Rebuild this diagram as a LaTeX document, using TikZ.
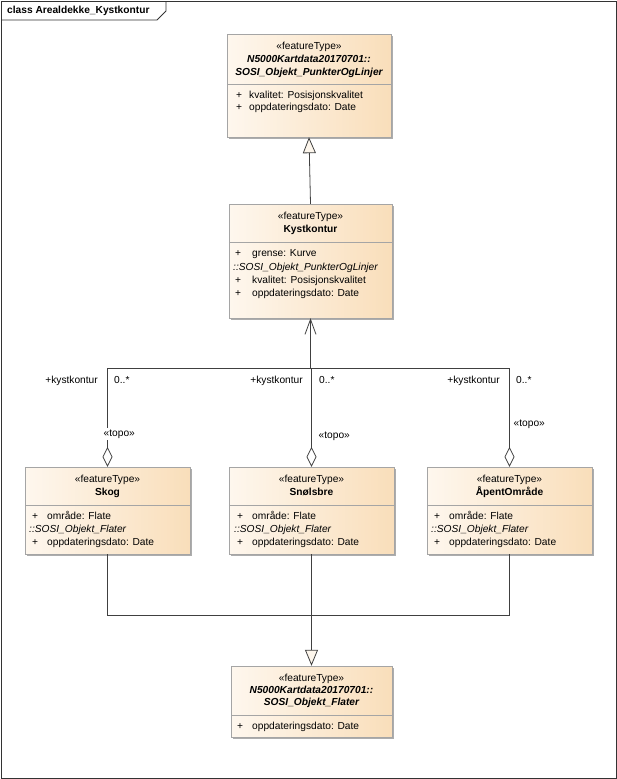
\documentclass[tikz,border=0pt]{standalone}
\usepackage{fontspec}
\setmainfont{Liberation Sans}
\usetikzlibrary{arrows.meta,shadows}

\definecolor{cls_light}{RGB}{254,247,238}
\definecolor{cls_dark}{RGB}{249,222,186}
\definecolor{cls_edge}{RGB}{165,165,165}
\definecolor{conn}{RGB}{64,64,64}
\definecolor{tip_fill}{RGB}{253,246,236}

\tikzset{
  cls_box/.style={draw=cls_edge, left color=cls_light, right color=cls_dark,
    inner sep=0pt, drop shadow={shadow xshift=2pt, shadow yshift=-2pt, fill=black!32, opacity=1}},
  txt/.style={inner sep=0pt, text height=7.5pt, text depth=2.2pt, font=\fontsize{10.2}{12}\selectfont},
  txt_name/.style={txt, font=\fontsize{10.2}{12}\selectfont\bfseries},
  txt_abs/.style={txt, font=\fontsize{10.2}{12}\selectfont\bfseries\itshape},
  txt_attr/.style={txt, anchor=west},
  txt_inh/.style={txt, anchor=west, font=\fontsize{10.2}{12}\selectfont\itshape},
  sep_line/.style={draw=cls_edge, line width=0.8pt},
}

\begin{document}
\begin{tikzpicture}[
  x=1pt, y=-1pt,
  conn_line/.style={draw=conn, line width=0.8pt},
  gen_end/.style={arrows={-Triangle[length=16pt, width=13pt, fill=tip_fill]}},
  agg_end/.style={arrows={Diamond[open, length=20pt, width=10pt]-}},
  nav_end/.style={arrows={-Straight Barb[length=15pt, width=11pt]}},
  ]
  \useasboundingbox (0,0) rectangle (617,779);

  % diagram frame
  \draw[line width=0.8pt, draw=black!80] (1,1) rectangle (616,778);
  \draw[line width=0.8pt, draw=black!80] (1,20) -- (157,20) -- (166,11) -- (166,1);
  \node[txt_name, anchor=west] (title) at (7,11) {class Arealdekke\_Kystkontur};

  % N5000 PunkterOgLinjer
  \node[cls_box, minimum width=164pt, minimum height=103pt] (punkt) at (309,85.5) {};
  \node[txt] (punkt_st) at (309,47) {«featureType»};
  \node[txt_abs] (punkt_pk) at (309,60) {N5000Kartdata20170701::};
  \node[txt_abs] (punkt_nm) at (309,73) {SOSI\_Objekt\_PunkterOgLinjer};
  \draw[sep_line] (punkt.west |- 0,84) -- (punkt.east |- 0,84);
  \node[txt_attr] (punkt_p1) at (236,96) {+};
  \node[txt_attr] (punkt_a1) at (249,96) {kvalitet: Posisjonskvalitet};
  \node[txt_attr] (punkt_p2) at (236,108) {+};
  \node[txt_attr] (punkt_a2) at (249,108) {oppdateringsdato: Date};

  % Kystkontur
  \node[cls_box, minimum width=163pt, minimum height=114pt] (kyst) at (310.5,261) {};
  \node[txt] (kyst_st) at (310.5,217) {«featureType»};
  \node[txt_name] (kyst_nm) at (310.5,230) {Kystkontur};
  \draw[sep_line] (kyst.west |- 0,242) -- (kyst.east |- 0,242);
  \node[txt_attr] (kyst_p1) at (235,254) {+};
  \node[txt_attr] (kyst_a1) at (252,254) {grense: Kurve};
  \node[txt_inh] (kyst_in) at (233,268) {::SOSI\_Objekt\_PunkterOgLinjer};
  \node[txt_attr] (kyst_p2) at (235,281) {+};
  \node[txt_attr] (kyst_a2) at (252,281) {kvalitet: Posisjonskvalitet};
  \node[txt_attr] (kyst_p3) at (235,294) {+};
  \node[txt_attr] (kyst_a3) at (252,294) {oppdateringsdato: Date};

  % flate classes
  \foreach \cls/\cx/\lx/\title in {skog/107.5/25/Skog, snol/311.5/230/Snølsbre, aapen/509.5/427/ÅpentOmråde}{
    \node[cls_box, minimum width=165pt, minimum height=87pt] (\cls) at (\cx,510.5) {};
    \node[txt] (\cls_st) at (\cx,480) {«featureType»};
    \node[txt_name] (\cls_nm) at (\cx,493) {\title};
    \draw[sep_line] (\cls.west |- 0,505) -- (\cls.east |- 0,505);
    \node[txt_attr] (\cls_p1) at (\lx+7,517) {+};
    \node[txt_attr] (\cls_a1) at (\lx+22,517) {område: Flate};
    \node[txt_inh] (\cls_in) at (\lx+4,530) {::SOSI\_Objekt\_Flater};
    \node[txt_attr] (\cls_p2) at (\lx+7,543) {+};
    \node[txt_attr] (\cls_a2) at (\lx+22,543) {oppdateringsdato: Date};
  }

  % N5000 Flater
  \node[cls_box, minimum width=161pt, minimum height=71pt] (flate) at (311.5,701.5) {};
  \node[txt] (flate_st) at (311.5,679) {«featureType»};
  \node[txt_abs] (flate_pk) at (311.5,691) {N5000Kartdata20170701::};
  \node[txt_abs] (flate_nm) at (311.5,703) {SOSI\_Objekt\_Flater};
  \draw[sep_line] (flate.west |- 0,715) -- (flate.east |- 0,715);
  \node[txt_attr] (flate_p1) at (237,727) {+};
  \node[txt_attr] (flate_a1) at (252,727) {oppdateringsdato: Date};

  % generalisations
  \draw[conn_line, gen_end] (kyst.north) -- (punkt.south);
  \coordinate (bus) at (311.5,615);
  \draw[conn_line] (skog.south) |- (bus);
  \draw[conn_line] (aapen.south) |- (bus);
  \draw[conn_line, gen_end] (snol.south) -- (flate.north);

  % topo aggregations
  \coordinate (hub) at (310.5,368);
  \draw[conn_line, agg_end] (skog.north) |- (hub);
  \draw[conn_line, agg_end] (aapen.north) |- (hub);
  \draw[conn_line, agg_end] (snol.north) -- (snol.north |- hub);
  \draw[conn_line, nav_end] (hub) -- (kyst.south);

  \foreach \cls/\rx/\mx/\tx/\ty in {skog/98/114/102/434, snol/303/319/317/436, aapen/500/516/512/424}{
    \node[txt, anchor=east] (\cls_role) at (\rx,381) {+kystkontur};
    \node[txt, anchor=west] (\cls_mult) at (\mx,381) {0..*};
    \node[txt, anchor=west, fill=white, inner sep=1.5pt] (\cls_topo) at (\tx,\ty) {«topo»};
  }
\end{tikzpicture}
\end{document}
